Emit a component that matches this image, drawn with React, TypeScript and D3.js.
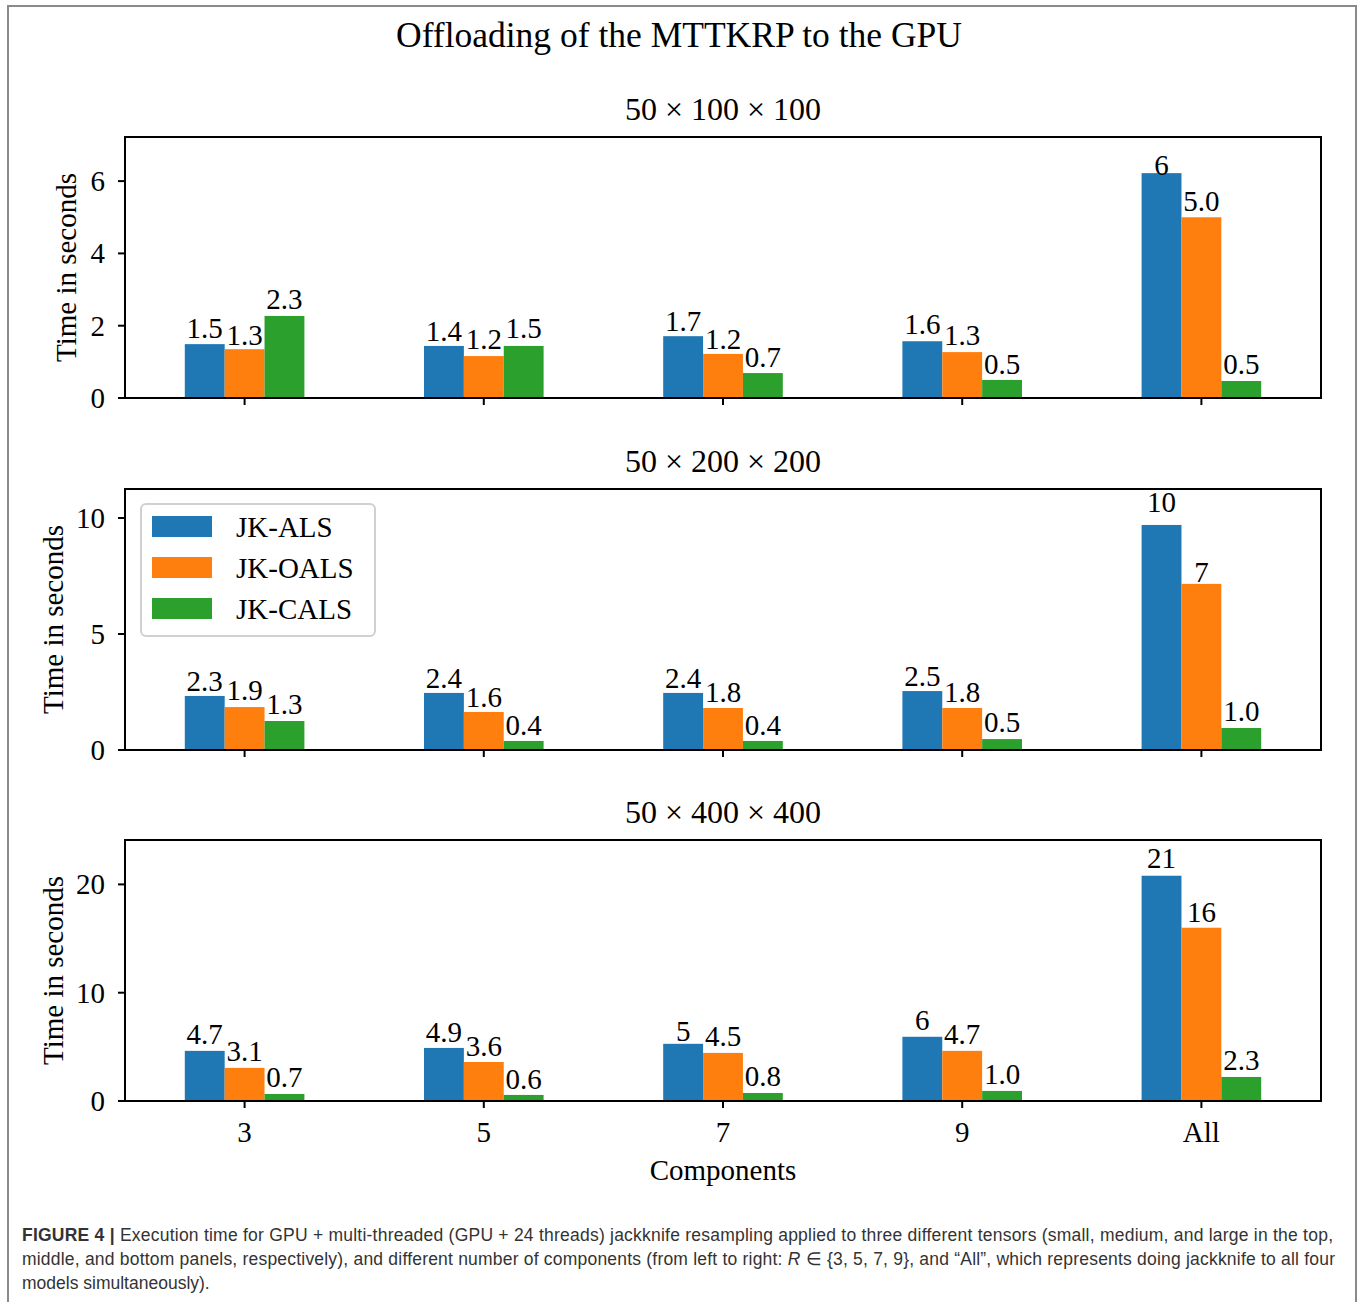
import React from "react";
import * as d3 from "d3";

const categories = ["3", "5", "7", "9", "All"];
const seriesNames = ["JK-ALS", "JK-OALS", "JK-CALS"];
const seriesColors = ["#1f77b4", "#ff7f0e", "#2ca02c"];

const panelTitles = ["50 × 100 × 100", "50 × 200 × 200", "50 × 400 × 400"];

// Panel 1: 50x100x100
const p1ALS = [1.49, 1.44, 1.71, 1.57, 6.22];
const p1OALS = [1.35, 1.16, 1.22, 1.27, 5.0];
const p1CALS = [2.27, 1.44, 0.69, 0.5, 0.47];
const p1ALSLabels = ["1.5", "1.4", "1.7", "1.6", "6"];
const p1OALSLabels = ["1.3", "1.2", "1.2", "1.3", "5.0"];
const p1CALSLabels = ["2.3", "1.5", "0.7", "0.5", "0.5"];
const p1Ticks = [0, 2, 4, 6];

// Panel 2: 50x200x200
const p2ALS = [2.33, 2.46, 2.46, 2.54, 9.7];
const p2OALS = [1.85, 1.64, 1.81, 1.81, 7.16];
const p2CALS = [1.25, 0.39, 0.39, 0.47, 0.95];
const p2ALSLabels = ["2.3", "2.4", "2.4", "2.5", "10"];
const p2OALSLabels = ["1.9", "1.6", "1.8", "1.8", "7"];
const p2CALSLabels = ["1.3", "0.4", "0.4", "0.5", "1.0"];
const p2Ticks = [0, 5, 10];

// Panel 3: 50x400x400
const p3ALS = [4.63, 4.9, 5.28, 5.93, 20.8];
const p3OALS = [3.06, 3.6, 4.44, 4.63, 16.0];
const p3CALS = [0.65, 0.56, 0.74, 0.93, 2.22];
const p3ALSLabels = ["4.7", "4.9", "5", "6", "21"];
const p3OALSLabels = ["3.1", "3.6", "4.5", "4.7", "16"];
const p3CALSLabels = ["0.7", "0.6", "0.8", "1.0", "2.3"];
const p3Ticks = [0, 10, 20];

const yMaxes = [7.22, 11.25, 24.1];

const panels = [
  { values: [p1ALS, p1OALS, p1CALS], labels: [p1ALSLabels, p1OALSLabels, p1CALSLabels], ticks: p1Ticks },
  { values: [p2ALS, p2OALS, p2CALS], labels: [p2ALSLabels, p2OALSLabels, p2CALSLabels], ticks: p2Ticks },
  { values: [p3ALS, p3OALS, p3CALS], labels: [p3ALSLabels, p3OALSLabels, p3CALSLabels], ticks: p3Ticks },
];

const captionLine1 =
  "Execution time for GPU + multi-threaded (GPU + 24 threads) jackknife resampling applied to three different tensors (small, medium, and large in the top,";
const captionLine2a =
  "middle, and bottom panels, respectively), and different number of components (from left to right: ";
const captionLine2b = " ∈ {3, 5, 7, 9}, and “All”, which represents doing jackknife to all four";
const captionLine3 = "models simultaneously).";

const SERIF = "'Liberation Serif', 'Times New Roman', serif";
const SANS = "'Liberation Sans', Arial, Helvetica, sans-serif";

const W = 1360;
const H = 1302;
const left = 125;
const right = 1321;
const panelTops = [137, 489, 840];
const panelHeight = 261;

function Panel({ idx }: { idx: number }) {
  const p = panels[idx];
  const top = panelTops[idx];
  const bottom = top + panelHeight;
  const x = d3.scaleBand<string>().domain(categories).range([left, right]).paddingInner(0).paddingOuter(0);
  const groupW = x.bandwidth() * 0.5;
  const x1 = d3
    .scaleBand<number>()
    .domain([0, 1, 2])
    .range([0, groupW]);
  const y = d3.scaleLinear().domain([0, yMaxes[idx]]).range([bottom, top]);
  const fs = 29;
  const ylabelX = idx === 0 ? 76 : 63;
  return (
    <g>
      <text x={(left + right) / 2} y={top - 17} textAnchor="middle" fontFamily={SERIF} fontSize={32}>
        {panelTitles[idx]}
      </text>
      {p.values.map((vals, s) =>
        vals.map((v, i) => {
          const bx = (x(categories[i]) as number) + x.bandwidth() / 2 - groupW / 2 + (x1(s) as number);
          return (
            <rect
              key={`b${s}-${i}`}
              x={bx}
              y={y(v)}
              width={x1.bandwidth()}
              height={bottom - y(v)}
              fill={seriesColors[s]}
            />
          );
        })
      )}
      {p.labels.map((labs, s) =>
        labs.map((lab, i) => {
          const bx = (x(categories[i]) as number) + x.bandwidth() / 2 - groupW / 2 + (x1(s) as number);
          return (
            <text
              key={`l${s}-${i}`}
              x={bx + x1.bandwidth() / 2}
              y={y(parseFloat(lab)) - 6}
              textAnchor="middle"
              fontFamily={SERIF}
              fontSize={fs}
            >
              {lab}
            </text>
          );
        })
      )}
      <rect x={left} y={top} width={right - left} height={bottom - top} fill="none" stroke="#000" strokeWidth={2} />
      {p.ticks.map((t) => (
        <g key={`t${t}`}>
          <line x1={left - 7} x2={left} y1={y(t)} y2={y(t)} stroke="#000" strokeWidth={2} />
          <text x={105} y={y(t)} dy="0.34em" textAnchor="end" fontFamily={SERIF} fontSize={fs}>
            {t}
          </text>
        </g>
      ))}
      {categories.map((c) => (
        <line
          key={`xt${c}`}
          x1={(x(c) as number) + x.bandwidth() / 2}
          x2={(x(c) as number) + x.bandwidth() / 2}
          y1={bottom}
          y2={bottom + 7}
          stroke="#000"
          strokeWidth={2}
        />
      ))}
      {idx === 2 &&
        categories.map((c) => (
          <text
            key={`xl${c}`}
            x={(x(c) as number) + x.bandwidth() / 2}
            y={bottom + 41}
            textAnchor="middle"
            fontFamily={SERIF}
            fontSize={fs}
          >
            {c}
          </text>
        ))}
      <text
        transform={`translate(${ylabelX},${(top + bottom) / 2}) rotate(-90)`}
        textAnchor="middle"
        fontFamily={SERIF}
        fontSize={fs}
      >
        Time in seconds
      </text>
    </g>
  );
}

function Legend() {
  const lx = 141;
  const ly = 504;
  return (
    <g>
      <rect x={lx} y={ly} width={234} height={132} rx={5} fill="#fff" fillOpacity={0.8} stroke="#d0d0d0" strokeWidth={2} />
      {seriesNames.map((n, i) => (
        <g key={n}>
          <rect x={152} y={516 + i * 41} width={60} height={21} fill={seriesColors[i]} />
          <text x={236} y={537 + i * 41} fontFamily={SERIF} fontSize={29}>
            {n}
          </text>
        </g>
      ))}
    </g>
  );
}

export default function App() {
  return (
    <svg
      width={W}
      height={H}
      viewBox={`0 0 ${W} ${H}`}
      style={{ position: "absolute", left: 0, top: 0, background: "#fff" }}
    >
      <rect x={0} y={0} width={W} height={H} fill="#fff" />
      <path d={`M8,${H + 2} L8,6 L1356,6 L1356,${H + 2}`} fill="none" stroke="#8a8a8a" strokeWidth={2} />
      <text x={679} y={47} textAnchor="middle" fontFamily={SERIF} fontSize={35.5}>
        Offloading of the MTTKRP to the GPU
      </text>
      <Panel idx={0} />
      <Panel idx={1} />
      <Panel idx={2} />
      <Legend />
      <text x={723} y={1180} textAnchor="middle" fontFamily={SERIF} fontSize={29}>
        Components
      </text>
      <g fontFamily={SANS} fontSize={17.5} fill="#333">
        <text x={22} y={1241} textLength={1311} lengthAdjust="spacing">
          <tspan fontWeight="bold">FIGURE 4 | </tspan>
          {captionLine1}
        </text>
        <text x={22} y={1265} textLength={1313} lengthAdjust="spacing">
          {captionLine2a}
          <tspan fontStyle="italic">R</tspan>
          {captionLine2b}
        </text>
        <text x={22} y={1289}>
          {captionLine3}
        </text>
      </g>
    </svg>
  );
}
